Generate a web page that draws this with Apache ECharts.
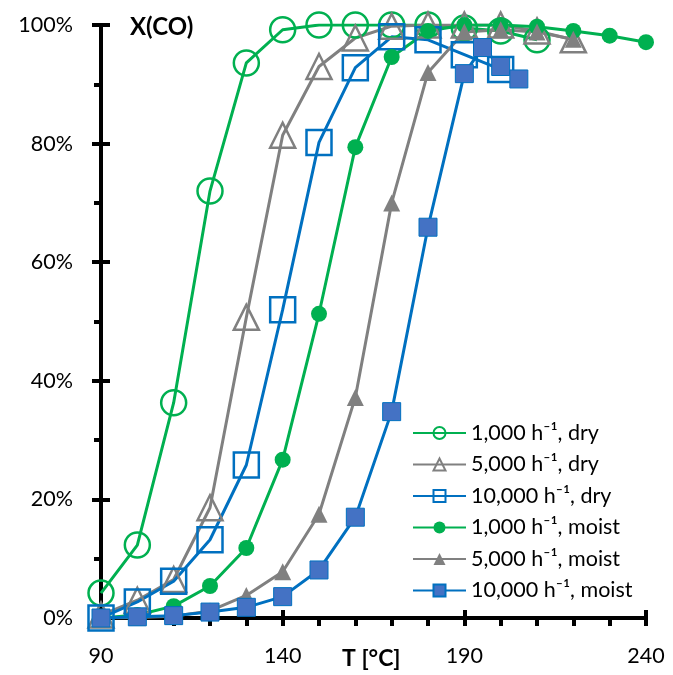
<!DOCTYPE html>
<html>
<head>
<meta charset="utf-8">
<script src="https://cdn.jsdelivr.net/npm/echarts@6/dist/echarts.min.js"></script>
<style>html,body{margin:0;padding:0;background:#fff}#c{width:673px;height:675px}</style>
</head>
<body>
<div id="c"></div>
<script>
// ---- data ----
const names = ['1,000 h\u207B\u00B9, dry', '5,000 h\u207B\u00B9, dry', '10,000 h\u207B\u00B9, dry',
               '1,000 h\u207B\u00B9, moist', '5,000 h\u207B\u00B9, moist', '10,000 h\u207B\u00B9, moist'];
const tDry1000 = [90,100,110,120,130,140,150,160,170,180,190,200,210];
const xDry1000 = [4.2,12.3,36.3,72,93.6,99.2,100,100,100,100,99.5,99,97.5];
const tDry5000 = [90,100,110,120,130,140,150,160,170,180,190,200,210,220];
const xDry5000 = [0.5,3,6.5,18.6,50.7,81.4,93,97.8,99.8,100,100,100,99,97.5];
const tDry10000 = [90,100,110,120,130,140,150,160,170,180,190,200];
const xDry10000 = [0,2.7,6.2,13.2,25.8,52,80.2,92.8,98,97.5,95,92.5];
const tMoist1000 = [90,100,110,120,130,140,150,160,170,180,190,200,210,220,230,240];
const xMoist1000 = [0,0.5,2,5.4,11.8,26.7,51.3,79.4,94.6,99,100,100,99.7,99,98.2,97.1];
const tMoist5000 = [90,100,110,120,130,140,150,160,170,180,190,200,210,220];
const xMoist5000 = [0,0.1,0.3,1.2,3.8,7.8,17.5,37.2,70,92,98.8,99.2,98.8,97.6];
const tMoist10000 = [90,100,110,120,130,140,150,160,170,180,190,195,200,205];
const xMoist10000 = [0,0.2,0.4,1,1.8,3.6,8.1,17,34.8,65.9,91.8,96.2,93,90.9];
const xTicks = [90, 140, 190, 240];
const yTicks = [0, 20, 40, 60, 80, 100];

const GREEN = '#00B050', GRAY = '#808080', BLUE = '#0070C0', FILLB = '#4472C4';
const FONT = 'Lato, "Noto Sans", sans-serif';

function pairs(t, v) { return t.map((x, i) => [x, v[i]]); }

function mk(name, t, v, color, symbol, size, fill, border, bw) {
  return {
    name, type: 'line', data: pairs(t, v), xAxisIndex: 0, yAxisIndex: 0,
    symbol, symbolSize: size, showAllSymbol: true,
    lineStyle: { color, width: 3 },
    itemStyle: { color: fill, borderColor: border, borderWidth: bw },
    emphasis: { disabled: true }, animation: false, z: 2
  };
}

const series = [
  mk(names[0], tDry1000, xDry1000, GREEN, 'circle', 25, 'rgba(0,0,0,0)', GREEN, 2.5),
  mk(names[1], tDry5000, xDry5000, GRAY, 'triangle', 25, 'rgba(0,0,0,0)', GRAY, 2.5),
  mk(names[2], tDry10000, xDry10000, BLUE, 'rect', 25, 'rgba(0,0,0,0)', BLUE, 2.5),
  mk(names[3], tMoist1000, xMoist1000, GREEN, 'circle', 16, GREEN, GREEN, 0),
  mk(names[4], tMoist5000, xMoist5000, GRAY, 'triangle', 17, GRAY, GRAY, 0),
  mk(names[5], tMoist10000, xMoist10000, BLUE, 'rect', 18, FILLB, BLUE, 1)
];

const chart = echarts.init(document.getElementById('c'), null, { renderer: 'canvas' });
chart.setOption({
  animation: false,
  backgroundColor: '#fff',
  grid: { left: 101, right: 27, top: 25, bottom: 57, containLabel: false, outerBoundsMode: 'none' },
  legend: {
    data: names, orient: 'vertical', left: 412, top: 422,
    itemWidth: 53, itemHeight: 15, itemGap: 9.5, padding: 0,
    textStyle: { fontFamily: FONT, fontSize: 21.5, color: '#000' },
    selectedMode: false
  },
  graphic: [{
    type: 'text', left: 130, top: 15,
    style: { text: 'X(CO)', font: 'bold 24px ' + FONT, fill: '#000' }
  }, {
    type: 'text', left: 342, top: 647,
    style: { text: 'T [\u00B0C]', font: 'bold 23px ' + FONT, fill: '#000' }
  }],
  xAxis: [{
    type: 'value', min: 90, max: 240, interval: 50,
    axisLine: { show: true, onZero: false, lineStyle: { color: '#000', width: 4 } },
    axisTick: { show: true, inside: false, length: 8, lineStyle: { color: '#000', width: 4 } },
    minorTick: { show: true, splitNumber: 5, length: 8, lineStyle: { color: '#000', width: 4 } },
    axisLabel: { margin: 27, fontFamily: FONT, fontSize: 21.5, color: '#000',
      formatter: v => xTicks.includes(v) ? String(v) : '' },
    splitLine: { show: false }
  }, {
    type: 'value', min: 90, max: 240, interval: 50, position: 'top', offset: -593,
    axisLine: { show: false, onZero: false },
    axisTick: { show: true, inside: false, length: 8, lineStyle: { color: '#000', width: 4 } },
    axisLabel: { show: false }, splitLine: { show: false }
  }],
  yAxis: [{
    type: 'value', min: 0, max: 100, interval: 20,
    axisLine: { show: true, onZero: false, lineStyle: { color: '#000', width: 4 } },
    axisTick: { show: true, inside: false, length: 9, lineStyle: { color: '#000', width: 4 } },
    minorTick: { show: true, splitNumber: 2, length: 7, lineStyle: { color: '#000', width: 4 } },
    axisLabel: { margin: 28, fontFamily: FONT, fontSize: 21.5, color: '#000',
      formatter: v => yTicks.includes(v) ? v + '%' : '' },
    splitLine: { show: false }
  }, {
    type: 'value', min: 0, max: 100, interval: 20, position: 'right', offset: -545,
    axisLine: { show: false, onZero: false },
    axisTick: { show: true, inside: false, length: 9, lineStyle: { color: '#000', width: 4 } },
    axisLabel: { show: false }, splitLine: { show: false }
  }],
  series
});
</script>
</body>
</html>
